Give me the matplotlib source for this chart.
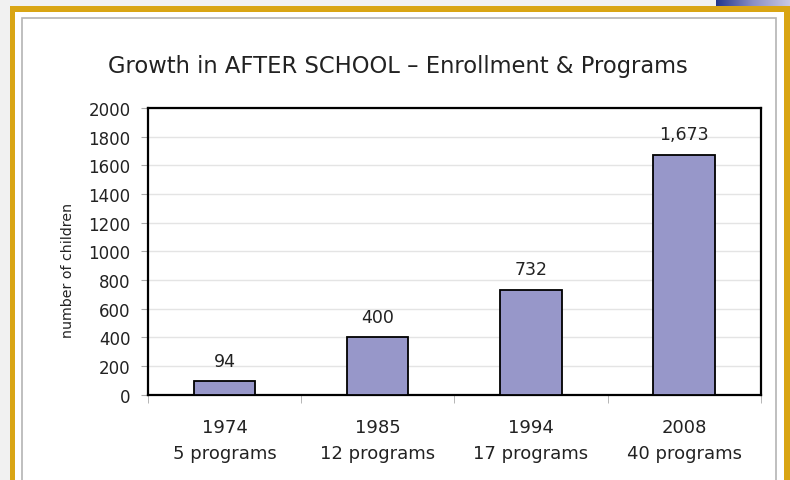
"""Bar chart: growth in after school enrollment and programs"""

import matplotlib.pyplot as plt
import matplotlib.patches as mpatches
from matplotlib.colors import LinearSegmentedColormap
import numpy as np

years = ["1974", "1985", "1994", "2008"]
programs = ["5 programs", "12 programs", "17 programs", "40 programs"]
children = [94, 400, 732, 1673]
bar_labels = ["94", "400", "732", "1,673"]

W, H = 790, 481
fig = plt.figure(figsize=(W / 100, H / 100), dpi=100)
fig.patch.set_facecolor("#f1f1f1")


def px_rect(x0, y0, x1, y1, **kw):
    """rectangle in pixel coords (origin top-left)"""
    r = mpatches.Rectangle((x0 / W, 1 - y1 / H), (x1 - x0) / W, (y1 - y0) / H,
                           transform=fig.transFigure, zorder=-5, **kw)
    fig.patches.append(r)


# slide frame
px_rect(10, 7, 800, 500, facecolor="#d9a514", edgecolor="none")
px_rect(15, 12.5, 784, 500, facecolor="white", edgecolor="none")
px_rect(21.5, 19, 775.5, 500, facecolor="none", edgecolor="#b4b4b4", linewidth=1.2)

# blue strip top right
strip = fig.add_axes([716 / W, 1 - 7 / H, 74 / W, 7 / H])
grad = np.linspace(0, 1, 256).reshape(1, -1)
cmap = LinearSegmentedColormap.from_list("strip", ["#23368c", "#8a8fc4", "#c9c9e4"])
strip.imshow(grad, aspect="auto", cmap=cmap)
strip.axis("off")

ax = fig.add_axes([148 / W, 1 - 395.7 / H, 612.7 / W, 286.7 / H])
x = np.arange(len(years))
bars = ax.bar(x, children, width=0.4, color="#9797c9", edgecolor="black",
              linewidth=1.3, zorder=3)
for b, lab in zip(bars, bar_labels):
    ax.text(b.get_x() + b.get_width() / 2, b.get_height() + 80, lab,
            ha="center", va="bottom", fontsize=12.5, color="#222222")

ax.set_xlim(-0.5, len(years) - 0.5)
ax.set_ylim(0, 2000)
ax.set_yticks(range(0, 2001, 200))
ax.tick_params(axis="y", labelsize=12, length=5, color="#aaaaaa", pad=7.5,
               labelcolor="#222222")
ax.set_xticks(x)
ax.set_xticklabels([f"{y}\n{p}" for y, p in zip(years, programs)],
                   fontsize=13, linespacing=1.55, color="#222222")
ax.tick_params(axis="x", length=0, pad=17)
ax.set_xticks(np.arange(-0.5, len(years)), minor=True)
ax.tick_params(axis="x", which="minor", length=6, color="#aaaaaa")
ax.yaxis.grid(True, color="#e4e4e4", linewidth=1, zorder=0)
for s in ax.spines.values():
    s.set_linewidth(1.6)
ax.set_ylabel("number of children", fontsize=10.2, color="#222222")
ax.yaxis.set_label_coords(-0.119, 0.436)

fig.text(398 / W, 1 - 67 / H, "Growth in AFTER SCHOOL – Enrollment & Programs",
         ha="center", va="center", fontsize=16.3, family="DejaVu Sans",
         color="#222222")

fig.savefig("out.png", dpi=100)
